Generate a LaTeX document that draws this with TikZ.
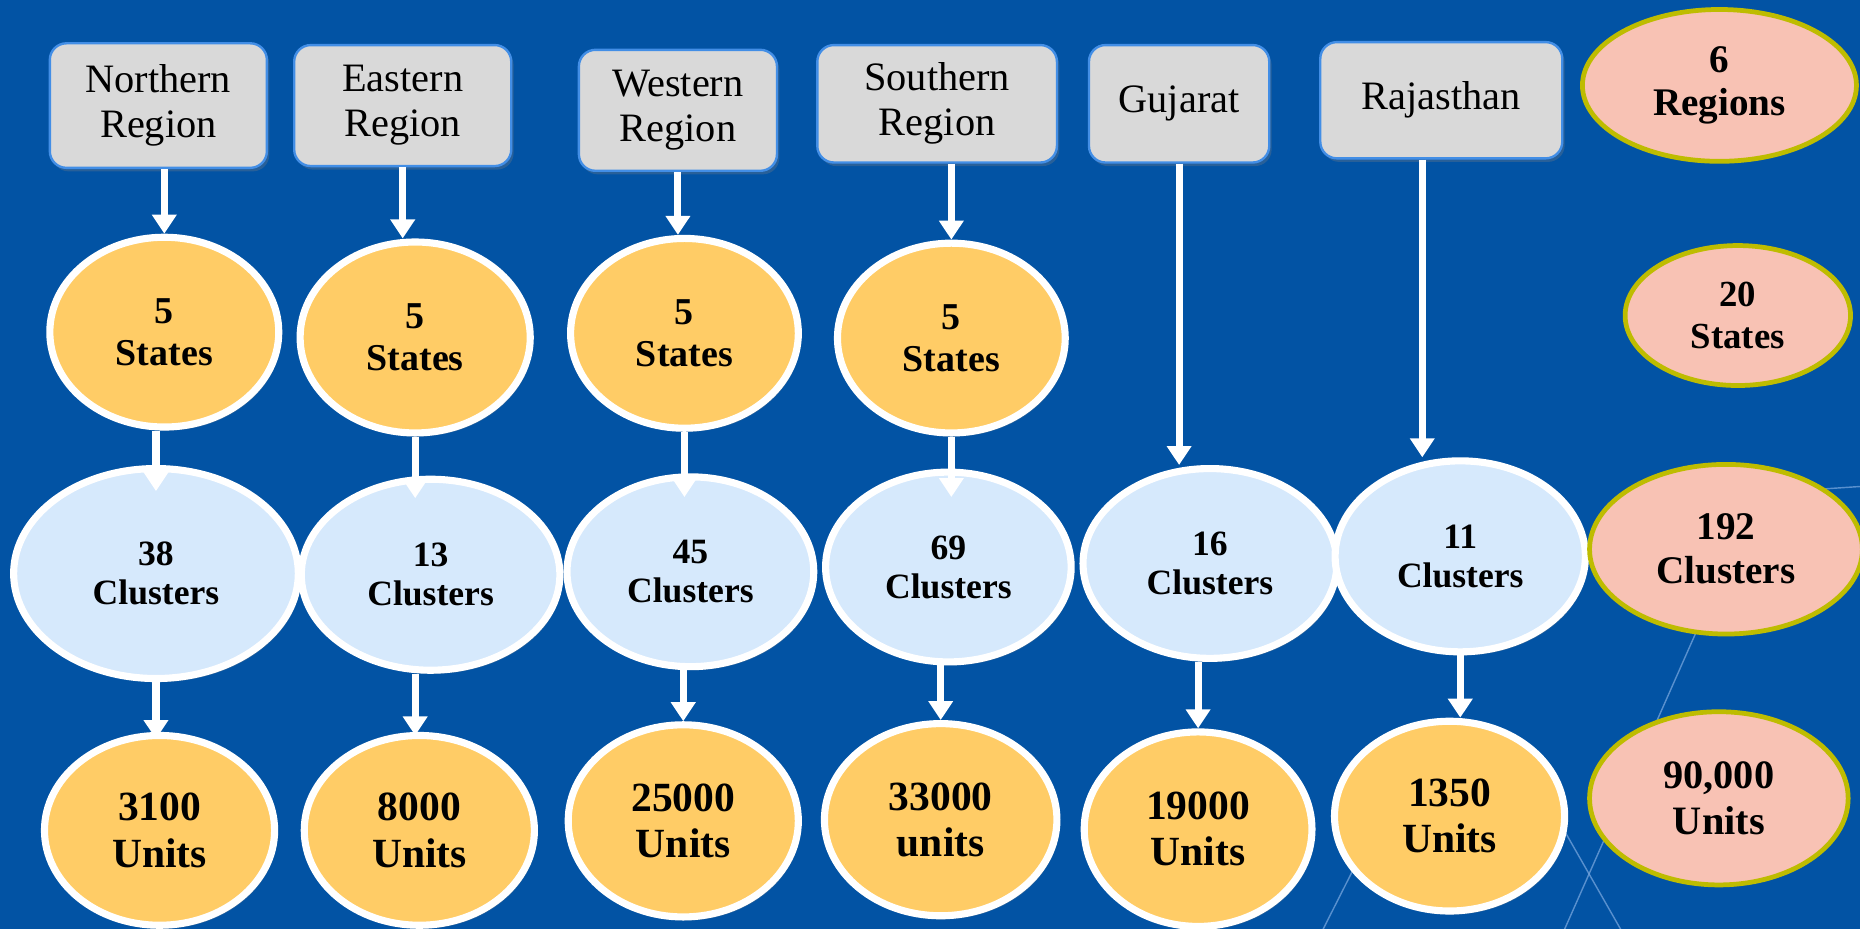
\documentclass[tikz,border=0pt]{standalone}
\usepackage{fontspec}
\setmainfont{Liberation Serif}
\usetikzlibrary{shapes.geometric,arrows.meta,calc,shadows}
\definecolor{bgblue}{RGB}{2,83,164}
\definecolor{boxgray}{RGB}{217,217,217}
\definecolor{boxline}{RGB}{66,142,230}
\definecolor{gold}{RGB}{255,204,102}
\definecolor{paleblue}{RGB}{214,233,252}
\definecolor{pink}{RGB}{248,194,180}
\definecolor{olive}{RGB}{190,188,0}
\definecolor{streak}{RGB}{125,170,225}
\begin{document}
\begin{tikzpicture}[x=1pt,y=-1pt,
  region/.style={draw=boxline, line width=2pt, fill=boxgray, rounded corners=14pt,
    inner sep=0pt, align=center, font=\fontsize{34}{38}\selectfont,
    drop shadow={shadow xshift=2pt, shadow yshift=-3pt, opacity=0.3}},
  bubble/.style={ellipse, draw=white, line width=6pt, inner sep=0pt, align=center,
    drop shadow={shadow xshift=2pt, shadow yshift=-3pt, opacity=0.3}},
  stateell/.style={bubble, fill=gold, font=\bfseries\fontsize{32}{35}\selectfont},
  clusterell/.style={bubble, fill=paleblue, font=\bfseries\fontsize{30}{33}\selectfont},
  unitell/.style={bubble, fill=gold, font=\bfseries\fontsize{35}{39}\selectfont},
  total/.style={ellipse, draw=olive, line width=4pt, fill=pink, inner sep=0pt, align=center,
    font=\bfseries\fontsize{33}{37}\selectfont},
  flow/.style={draw=white, line width=6pt, -{Triangle[width=20pt,length=16pt]}}]
\useasboundingbox (0,0) rectangle (1568,783);
\fill[bgblue] (0,0) rectangle (1568,783);
% faint streaks of the background
\draw[streak, line width=1.2pt, opacity=0.7] (1440,510) -- (1316,790);
\draw[streak, line width=1.2pt, opacity=0.7] (1290,650) -- (1370,790);
\draw[streak, line width=1.2pt, opacity=0.7] (1160,695) -- (1112,790);
\draw[streak, line width=1.2pt, opacity=0.7] (1480,416) -- (1570,410);
% regions
\node[region, minimum width=183pt, minimum height=105pt] (nr) at (133.5,89) {Northern\\Region};
\node[region, minimum width=183pt, minimum height=102pt] (er) at (339.5,89) {Eastern\\Region};
\node[region, minimum width=167pt, minimum height=102pt] (wr) at (571.5,93) {Western\\Region};
\node[region, minimum width=202pt, minimum height=99pt] (sr) at (790,87.5) {Southern\\Region};
\node[region, minimum width=152pt, minimum height=99pt] (gj) at (994,87.5) {Gujarat};
\node[region, minimum width=204pt, minimum height=98pt] (rj) at (1215,84.5) {Rajasthan};
% states
\node[stateell, minimum width=193pt, minimum height=160pt] (ns) at (138.5,280) {5\\States};
\node[stateell, minimum width=194pt, minimum height=161pt] (es) at (350,284.5) {5\\States};
\node[stateell, minimum width=192pt, minimum height=160pt] (ws) at (577,281) {5\\States};
\node[stateell, minimum width=192pt, minimum height=160pt] (ss) at (802,285) {5\\States};
% clusters
\node[clusterell, minimum width=240pt, minimum height=177pt] (nc) at (131.5,483.5) {38\\Clusters};
\node[clusterell, minimum width=218pt, minimum height=161pt] (ec) at (363,484.5) {13\\Clusters};
\node[clusterell, minimum width=208pt, minimum height=160pt] (wc) at (582,482) {45\\Clusters};
\node[clusterell, minimum width=207pt, minimum height=160pt] (sc) at (799.5,478) {69\\Clusters};
\node[clusterell, minimum width=214pt, minimum height=160pt] (gc) at (1020,475) {16\\Clusters};
\node[clusterell, minimum width=211pt, minimum height=161pt] (rc) at (1231,469) {11\\Clusters};
% units
\node[unitell, minimum width=194pt, minimum height=160pt] (nu) at (134.5,700) {3100\\Units};
\node[unitell, minimum width=194pt, minimum height=160pt] (eu) at (353.5,700) {8000\\Units};
\node[unitell, minimum width=194pt, minimum height=162pt] (wu) at (576,692) {25000\\Units};
\node[unitell, minimum width=196pt, minimum height=162pt] (su) at (793,691) {33000\\units};
\node[unitell, minimum width=192pt, minimum height=164pt] (gu) at (1010,699) {19000\\Units};
\node[unitell, minimum width=194pt, minimum height=160pt] (ru) at (1222,688) {1350\\Units};
% totals
\node[total, minimum width=231pt, minimum height=128pt] (t1) at (1449.5,72) {6\\Regions};
\node[total, minimum width=190pt, minimum height=118pt, font=\bfseries\fontsize{31}{36}\selectfont] (t2) at (1465,266) {20\\States};
\node[total, minimum width=230pt, minimum height=143pt] (t3) at (1455,463) {192\\Clusters};
\node[total, minimum width=218pt, minimum height=146pt, font=\bfseries\fontsize{34}{39}\selectfont] (t4) at (1449,673) {90,000\\Units};
% arrows
\draw[flow] (nr.south -| ns.north) -- (ns.north);
\draw[flow] (er.south) -- (er.south |- es.north);
\draw[flow] (wr.south) -- (wr.south |- ws.north);
\draw[flow] (sr.south -| ss.north) -- (ss.north);
\draw[flow] (gj.south) -- (gj.south |- gc.north);
\coordinate (rjarr) at ($(rj.south)+(-16,0)$);
\draw[flow] (rjarr) -- (rjarr |- rc.north);
\draw[flow, shorten >=-22pt] (ns.south -| nc.north) -- (nc.north);
\draw[flow, shorten >=-19pt] (es.south) -- (es.south |- ec.north);
\draw[flow, shorten >=-20pt] (ws.south) -- (ws.south |- wc.north);
\draw[flow, shorten >=-24pt] (ss.south) -- (ss.south |- sc.north);
\draw[flow, shorten >=-6pt] (nc.south) -- (nc.south |- nu.north);
\draw[flow, shorten >=-3pt] (ec.south -| es.south) -- (es.south |- eu.north);
\draw[flow] (wc.south -| wu.north) -- (wu.north);
\draw[flow] (sc.south -| su.north) -- (su.north);
\draw[flow] (gc.south -| gu.north) -- (gu.north);
\draw[flow] (rc.south) -- (rc.south |- ru.north);
\end{tikzpicture}
\end{document}
